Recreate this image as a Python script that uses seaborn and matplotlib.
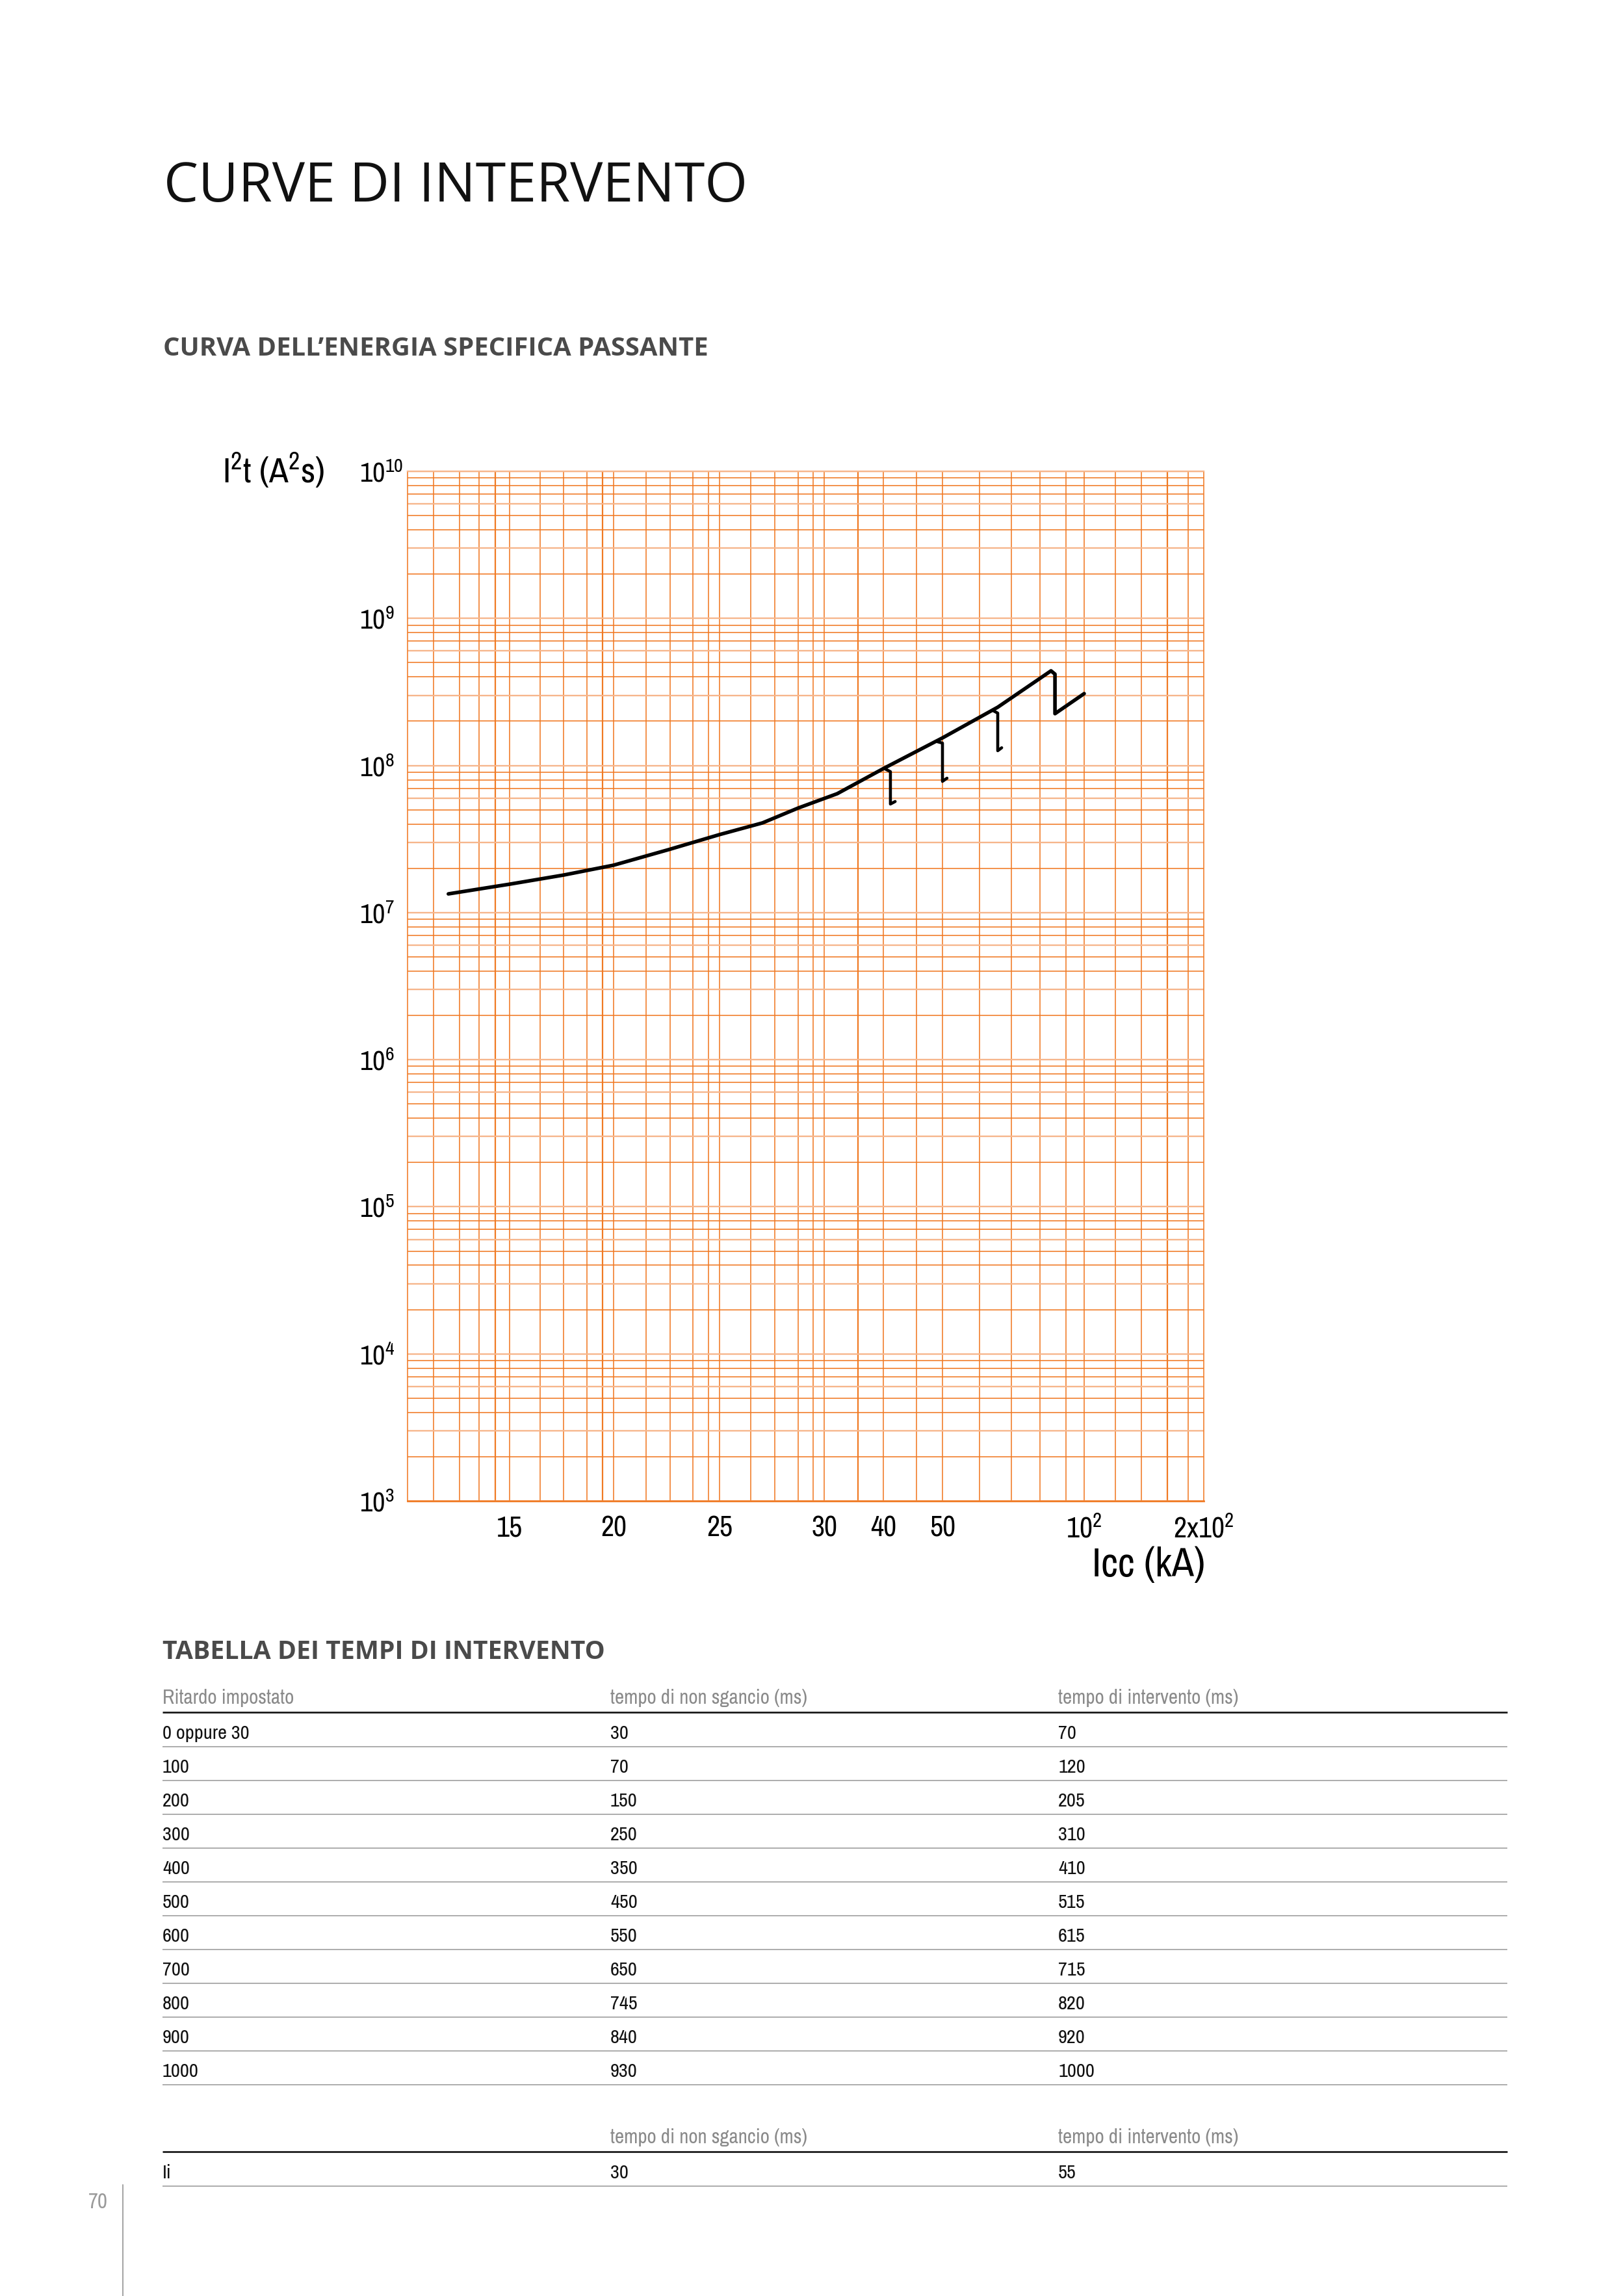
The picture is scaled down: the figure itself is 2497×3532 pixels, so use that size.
import numpy as np
import matplotlib
matplotlib.use("Agg")
import matplotlib.pyplot as plt
import seaborn as sns
from matplotlib import font_manager
from matplotlib.font_manager import FontProperties
from matplotlib.lines import Line2D
from matplotlib.ticker import NullLocator

# ---------------- data ----------------
icc_main = [12.0, 15.0, 17.6, 20.0, 22.6, 25.0, 27.05, 28.76, 32.2, 40.1, 50.0, 69.5, 88.3, 89.7, 89.7, 100.0]
i2t_main = [1.34e7, 1.56e7, 1.80e7, 2.10e7, 2.68e7, 3.39e7, 4.07e7, 5.14e7, 6.43e7, 9.57e7, 1.54e8, 2.49e8,
            4.40e8, 4.18e8, 2.25e8, 3.08e8]

drop1_icc = [40.1, 41.2, 41.2, 42.0]
drop1_i2t = [9.57e7, 9.08e7, 5.47e7, 5.69e7]
drop2_icc = [48.9, 50.0, 50.0, 51.6]
drop2_i2t = [1.46e8, 1.42e8, 7.80e7, 8.20e7]
drop3_icc = [67.7, 69.5, 69.5, 70.9]
drop3_i2t = [2.37e8, 2.27e8, 1.26e8, 1.32e8]

x_tick_values = [15, 20, 25, 30, 40, 50, 100, 200]
x_tick_labels = ["15", "20", "25", "30", "40", "50", "10$^{2}$", "2x10$^{2}$"]
y_decades = [3, 4, 5, 6, 7, 8, 9, 10]

ritardo = ["0 oppure 30", "100", "200", "300", "400", "500", "600", "700", "800", "900", "1000"]
non_sgancio = ["30", "70", "150", "250", "350", "450", "550", "650", "745", "840", "930"]
intervento = ["70", "120", "205", "310", "410", "515", "615", "715", "820", "920", "1000"]
ii_row = ["Ii", "30", "55"]

# ---------------- fonts / layout helpers ----------------
W, H = 2497, 3532
DPI = 100
sns.set_theme(style="white")
ttf = font_manager.fontManager.ttflist
avail = {f.name for f in ttf}


def is_regular(f):
    return f.style == "normal" and f.weight in (400, "normal", "regular", "book")


def find_condensed():
    for f in ttf:
        if f.name in ("Liberation Sans Narrow", "Arial Narrow") and is_regular(f):
            return f.fname, f.name
    for f in ttf:
        if ("Condensed" in f.name or "Narrow" in f.name) and is_regular(f) and "Mono" not in f.name:
            return f.fname, f.name
    for f in ttf:
        if f.stretch in ("condensed", "semi-condensed") and is_regular(f) and "Mono" not in f.name \
                and "Serif" not in f.name:
            return f.fname, None
    return None, None


COND_FILE, COND_NAME = find_condensed()
CHART_FONT = COND_NAME if COND_NAME else "Liberation Sans"
TITLE_FONT = "Open Sans" if "Open Sans" in avail else "DejaVu Sans"


def table_prop(size):
    if COND_FILE:
        return FontProperties(fname=COND_FILE, size=size)
    return FontProperties(family=TITLE_FONT, size=size)


plt.rcParams["font.family"] = [CHART_FONT, "DejaVu Sans"]
plt.rcParams["mathtext.fontset"] = "custom"
plt.rcParams["mathtext.rm"] = CHART_FONT
plt.rcParams["mathtext.it"] = CHART_FONT
plt.rcParams["mathtext.bf"] = CHART_FONT
plt.rcParams["mathtext.default"] = "rm"

fig = plt.figure(figsize=(W / DPI, H / DPI), dpi=DPI, facecolor="white")


def fx(px):
    return px / W


def fy(py):
    return 1 - py / H


renderer = fig.canvas.get_renderer()


def fit_width(t, target):
    w = t.get_window_extent(renderer=renderer).width
    t.set_fontsize(t.get_fontsize() * target / w)
    return t.get_fontsize()


def probe_size(s, target, **kw):
    p = fig.text(0, 0, s, **kw)
    size = fit_width(p, target)
    p.remove()
    return size


def hline(x0, x1, y, color, lw):
    fig.add_artist(Line2D([fx(x0), fx(x1)], [fy(y), fy(y)], transform=fig.transFigure,
                          color=color, lw=lw, solid_capstyle="butt"))


# calibrate text sizes on reference string widths
ROW_SIZE = probe_size("0 oppure 30", 133, fontproperties=table_prop(20))
HEAD_SIZE = probe_size("Ritardo impostato", 203, fontproperties=table_prop(20))
PAGE_SIZE = probe_size("70", 30, fontproperties=table_prop(20))
ICC_SIZE = probe_size("Icc (kA)", 174, family=CHART_FONT, fontsize=40)
I2T_SIZE = probe_size("I$^{2}$t (A$^{2}$s)", 157, family=CHART_FONT, fontsize=40)
XT_SIZE = probe_size("15", 40, family=CHART_FONT, fontsize=34)

# ---------------- page titles ----------------
t = fig.text(fx(252), fy(310), "CURVE DI INTERVENTO", family=TITLE_FONT, fontsize=60,
             color="#111111", ha="left", va="baseline")
fit_width(t, 898)
t = fig.text(fx(251), fy(547), "CURVA DELL\u2019ENERGIA SPECIFICA PASSANTE", family=TITLE_FONT,
             fontweight="bold", fontsize=26, color="#4a4a4a", ha="left", va="baseline")
fit_width(t, 838)

# ---------------- chart ----------------
AX_L, AX_R, AX_T, AX_B = 627, 1852, 725, 2309
ax = fig.add_axes([fx(AX_L), fy(AX_B), (AX_R - AX_L) / W, (AX_B - AX_T) / H])

# irregular printed graph-paper abscissa: piecewise mapping between labelled lines
anchor_vals = [10, 15, 20, 25, 30, 40, 50, 100, 200]
anchor_pos = [627, 784, 944, 1107, 1268, 1359, 1450, 1668, 1852]


def fwd(v):
    return np.interp(v, anchor_vals, anchor_pos)


def inv(p):
    return np.interp(p, anchor_pos, anchor_vals)


ax.set_xscale("function", functions=(fwd, inv))
ax.set_yscale("log")
ax.set_xlim(10, 200)
ax.set_ylim(1e3, 1e10)

ORANGE = "#F07A24"
PEACH = "#F6B68C"

# vertical grid lines of the printed paper
v_major = [15, 20, 25, 30, 40, 50, 100]
v_minor = [11.27, 12.55, 13.5, 14.3, 16.47, 17.59, 18.72, 19.47, 21.53, 22.67, 23.74, 24.48,
           26.49, 27.64, 28.76, 29.47, 35.7, 45.6, 63.1, 74.3, 84.4, 93.6, 126.1, 147.8, 169.6, 187.0]
v_thick = {14.3, 19.47, 35.7, 169.6}
for v in v_major + v_minor:
    ax.axvline(v, color=ORANGE, lw=1.6 if v in v_thick else 1.15, zorder=0)

# horizontal log grid
light_mult = {1, 3, 6}
for k in range(3, 10):
    for m in range(1, 10):
        val = m * 10.0 ** k
        if m in light_mult:
            ax.axhline(val, color=PEACH, lw=1.7, zorder=0)
        else:
            ax.axhline(val, color=ORANGE, lw=1.15, zorder=0)
ax.axhline(1e10, color=PEACH, lw=1.7, zorder=0)

for side in ["left", "right"]:
    ax.spines[side].set_color(ORANGE)
    ax.spines[side].set_linewidth(1.15)
ax.spines["top"].set_color(PEACH)
ax.spines["top"].set_linewidth(1.7)
ax.spines["bottom"].set_color(ORANGE)
ax.spines["bottom"].set_linewidth(2.0)

# curve
sns.lineplot(x=icc_main, y=i2t_main, sort=False, estimator=None, color="black", lw=4.0, ax=ax, zorder=3)
for dx, dy in [(drop1_icc, drop1_i2t), (drop2_icc, drop2_i2t), (drop3_icc, drop3_i2t)]:
    sns.lineplot(x=dx, y=dy, sort=False, estimator=None, color="black", lw=3.3, ax=ax, zorder=3)

ax.set_xticks(x_tick_values, labels=x_tick_labels)
ax.xaxis.set_minor_locator(NullLocator())
ax.set_yticks([10.0 ** k for k in y_decades], labels=[f"10$^{{{k}}}$" for k in y_decades])
ax.yaxis.set_minor_locator(NullLocator())
ax.tick_params(axis="both", length=0)
ax.tick_params(axis="x", pad=16, labelsize=XT_SIZE, labelcolor="black")
ax.tick_params(axis="y", pad=53, labelsize=XT_SIZE * 0.97, labelcolor="black")
for lbl in ax.get_yticklabels():
    lbl.set_horizontalalignment("left")
ax.set_xlabel("")
ax.set_ylabel("")

fig.text(fx(342), fy(743), "I$^{2}$t (A$^{2}$s)", fontsize=I2T_SIZE, color="black",
         ha="left", va="baseline")
fig.text(fx(1854), fy(2425), "Icc (kA)", fontsize=ICC_SIZE, color="black",
         ha="right", va="baseline")

# ---------------- table ----------------
t = fig.text(fx(250), fy(2552), "TABELLA DEI TEMPI DI INTERVENTO", family=TITLE_FONT,
             fontweight="bold", fontsize=26, color="#4a4a4a", ha="left", va="baseline")
fit_width(t, 682)

col_x = [250, 939, 1628]
TBL_L, TBL_R = 250, 2319
HEAD_COL = "#8a8a8a"
LINE_GRAY = "#a6a6a6"

headers = ["Ritardo impostato", "tempo di non sgancio (ms)", "tempo di intervento (ms)"]
for x, h in zip(col_x, headers):
    fig.text(fx(x), fy(2621), h, fontproperties=table_prop(HEAD_SIZE), color=HEAD_COL,
             ha="left", va="baseline")
hline(TBL_L, TBL_R, 2634, "#111111", 1.9)

for i, row in enumerate(zip(ritardo, non_sgancio, intervento)):
    yb = 2675 + 52 * i
    for x, s in zip(col_x, row):
        fig.text(fx(x), fy(yb), s, fontproperties=table_prop(ROW_SIZE), color="#111111",
                 ha="left", va="baseline")
    hline(TBL_L, TBL_R, yb + 12, LINE_GRAY, 1.3)

# second table
for x, h in zip(col_x[1:], headers[1:]):
    fig.text(fx(x), fy(3297), h, fontproperties=table_prop(HEAD_SIZE), color=HEAD_COL,
             ha="left", va="baseline")
hline(TBL_L, TBL_R, 3310, "#111111", 1.9)
for x, s in zip(col_x, ii_row):
    fig.text(fx(x), fy(3351), s, fontproperties=table_prop(ROW_SIZE), color="#111111",
             ha="left", va="baseline")
hline(TBL_L, TBL_R, 3363, LINE_GRAY, 1.3)

# page number and margin rule
fig.text(fx(151), fy(3397), "70", fontproperties=table_prop(PAGE_SIZE), color="#9a9a9a",
         ha="center", va="baseline")
fig.add_artist(Line2D([fx(189), fx(189)], [fy(3361), fy(3532)], transform=fig.transFigure,
                      color="#a6a6a6", lw=1.5))

fig.savefig("out.png", dpi=DPI, facecolor="white")
